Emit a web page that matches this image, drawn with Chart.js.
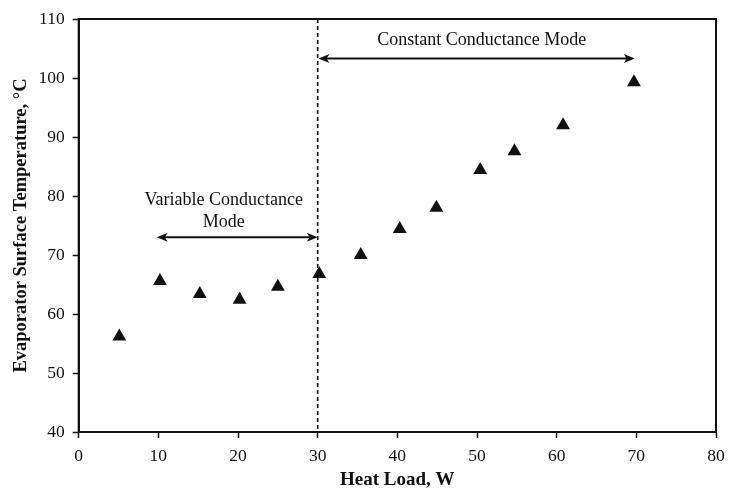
<!DOCTYPE html>
<html>
<head>
<meta charset="utf-8">
<script src="https://cdn.jsdelivr.net/npm/chart.js@4/dist/chart.umd.min.js"></script>
<style>
  html, body { margin: 0; padding: 0; background: #fff; }
  #wrap { width: 739px; height: 491px; position: relative; }
</style>
</head>
<body>
<div id="wrap"><canvas id="c" width="739" height="491"></canvas></div>
<script>
// ---- data ----
const heatLoad = [5.1, 10.2, 15.2, 20.2, 25, 30.2, 35.4, 40.3, 44.9, 50.4, 54.7, 60.8, 69.7];
const surfaceTemp = [56.2, 65.6, 63.4, 62.4, 64.6, 66.8, 70.0, 74.4, 78.0, 84.4, 87.6, 92.0, 99.3];
const xTicks = [0, 10, 20, 30, 40, 50, 60, 70, 80];
const yTicks = [40, 50, 60, 70, 80, 90, 100, 110];
const modeBoundary = 30;
const arrowLabels = ['Variable Conductance Mode', 'Constant Conductance Mode'];
const arrowStart = [9.8, 30.1];
const arrowEnd = [30, 69.8];
const arrowLevel = [73.0, 103.3];

const FONT = "'Liberation Serif', 'Times New Roman', serif";
const INK = '#111';

const overlay = {
  id: 'overlay',
  afterDatasetsDraw(chart) {
    const {ctx, chartArea: a, scales: {x, y}} = chart;
    ctx.save();
    // frame
    ctx.strokeStyle = INK;
    ctx.lineWidth = 2;
    ctx.strokeRect(a.left, a.top, a.right - a.left, a.bottom - a.top);
    // dashed boundary
    const bx = x.getPixelForValue(modeBoundary);
    ctx.setLineDash([4, 3]);
    ctx.lineWidth = 1.6;
    ctx.beginPath();
    ctx.moveTo(bx, a.top);
    ctx.lineTo(bx, a.bottom);
    ctx.stroke();
    ctx.setLineDash([]);
    // arrows
    const head = (px, py, dir) => {
      ctx.beginPath();
      ctx.moveTo(px, py);
      ctx.lineTo(px - dir * 11, py - 4.5);
      ctx.lineTo(px - dir * 8, py);
      ctx.lineTo(px - dir * 11, py + 4.5);
      ctx.closePath();
      ctx.fill();
    };
    ctx.fillStyle = INK;
    ctx.lineWidth = 2;
    for (let i = 0; i < arrowStart.length; i++) {
      const x0 = x.getPixelForValue(arrowStart[i]);
      const x1 = x.getPixelForValue(arrowEnd[i]);
      const py = y.getPixelForValue(arrowLevel[i]);
      ctx.beginPath();
      ctx.moveTo(x0 + 6, py);
      ctx.lineTo(x1 - 6, py);
      ctx.stroke();
      head(x0, py, -1);
      head(x1, py, 1);
    }
    // labels
    ctx.font = '18px ' + FONT;
    ctx.textAlign = 'center';
    ctx.textBaseline = 'middle';
    ctx.fillText('Variable Conductance', x.getPixelForValue(18.2), y.getPixelForValue(79.3));
    ctx.fillText('Mode', x.getPixelForValue(18.2), y.getPixelForValue(75.5));
    ctx.fillText(arrowLabels[1], x.getPixelForValue(50.6), y.getPixelForValue(106.4));
    ctx.restore();
  }
};

new Chart(document.getElementById('c'), {
  type: 'scatter',
  data: {
    datasets: [{
      data: heatLoad.map((v, i) => ({x: v, y: surfaceTemp[i]})),
      pointStyle: 'triangle',
      pointRadius: 8,
      pointHoverRadius: 8,
      backgroundColor: INK,
      borderColor: INK,
      borderWidth: 0
    }]
  },
  options: {
    responsive: false,
    animation: false,
    devicePixelRatio: 1,
    layout: { padding: { top: 19, right: 23, bottom: 0, left: 0 } },
    plugins: { legend: { display: false }, tooltip: { enabled: false } },
    scales: {
      x: {
        type: 'linear', min: 0, max: 80,
        afterBuildTicks: s => { s.ticks = xTicks.map(v => ({value: v})); },
        afterFit: s => { s.height = 59; },
        grid: { drawOnChartArea: false, drawTicks: true, tickLength: 6, tickColor: INK, tickWidth: 1.5 },
        border: { display: true, color: INK, width: 2 },
        ticks: { color: INK, font: { family: FONT, size: 17.5 }, padding: 8, maxRotation: 0 },
        title: { display: true, text: 'Heat Load, W', color: INK,
                 font: { family: FONT, size: 19, weight: 'bold' }, padding: { top: 0, bottom: 0 } }
      },
      y: {
        type: 'linear', min: 40, max: 110,
        afterBuildTicks: s => { s.ticks = yTicks.map(v => ({value: v})); },
        afterFit: s => { s.width = 78.7; },
        grid: { drawOnChartArea: false, drawTicks: true, tickLength: 6, tickColor: INK, tickWidth: 1.5 },
        border: { display: true, color: INK, width: 2 },
        ticks: { color: INK, font: { family: FONT, size: 17.5 }, padding: 8 },
        title: { display: true, text: 'Evaporator Surface Temperature, °C', color: INK,
                 font: { family: FONT, size: 18.5, weight: 'bold' }, padding: { top: 10, bottom: 0 } }
      }
    }
  },
  plugins: [overlay]
});
</script>
</body>
</html>
